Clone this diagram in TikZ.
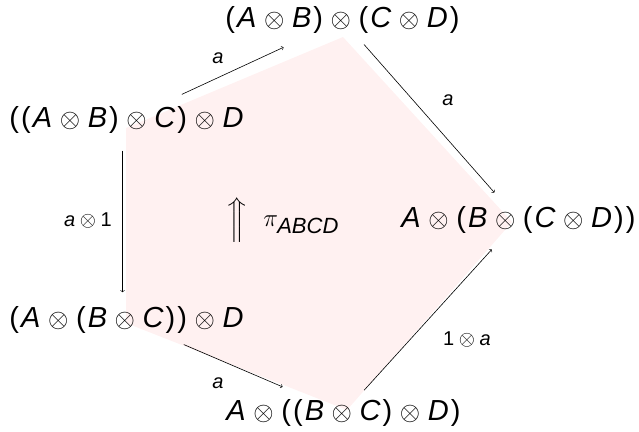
\documentclass[tikz,border=0pt]{standalone}
\usepackage{amsmath}
\usepackage{graphicx}
\usepackage{fontspec}
\setmainfont{Liberation Sans}
\newcommand\ltr[1]{\text{\itshape #1}}
\newcommand\lp{\text{(}\mkern1.5mu}
\newcommand\rp{\mkern1.5mu\text{)}}
\newcommand\ot{\mathbin{\text{\scalebox{1.05}{$\otimes$}}}}
\definecolor{pinkfill}{RGB}{255,241,241}
\begin{document}
\begin{tikzpicture}[x=1pt,y=-1pt,
  obj/.style={inner sep=1pt,font=\fontsize{29}{33}\selectfont,execute at begin node={\medmuskip=5.5mu}},
  lbl/.style={inner sep=0pt,font=\fontsize{20}{24}\selectfont},
  arr/.style={->,line width=0.6pt}]
\useasboundingbox (0,0) rectangle (639,431);
\fill[pinkfill] (126,128) -- (343,37) -- (512,222) -- (347,410) -- (126,323) -- cycle;
\node[obj] (tl) at (126.5,120) {$\lp\lp\ltr{A}\ot\ltr{B}\rp\ot\ltr{C}\rp\ot\ltr{D}$};
\node[obj] (t) at (342.5,20) {$\lp\ltr{A}\ot\ltr{B}\rp\ot\lp\ltr{C}\ot\ltr{D}\rp$};
\node[obj] (r) at (518.5,220) {$\ltr{A}\ot\lp\ltr{B}\ot\lp\ltr{C}\ot\ltr{D}\rp\rp$};
\node[obj] (bl) at (126.5,320) {$\lp\ltr{A}\ot\lp\ltr{B}\ot\ltr{C}\rp\rp\ot\ltr{D}$};
\node[obj] (b) at (343.5,413) {$\ltr{A}\ot\lp\lp\ltr{B}\ot\ltr{C}\rp\ot\ltr{D}\rp$};
\node[inner sep=1pt,font=\fontsize{26}{30}\selectfont] (pi) at (283,220)
  {{\fontsize{30}{34}\selectfont$\Big\Uparrow$}\hspace{17pt}$\pi_{\text{\fontsize{22}{24}\selectfont\itshape ABCD}}$};
\draw[arr,shorten <=26pt,shorten >=30pt] (tl) -- (t);
\draw[arr,shorten <=13pt,shorten >=17pt] (t) -- (r);
\draw[arr,shorten <=16pt,shorten >=13pt] ([xshift=-4pt]tl.south) -- ([xshift=-4pt]bl.north);
\draw[arr,shorten <=25pt,shorten >=29pt] (bl) -- (b);
\draw[arr,shorten <=11pt,shorten >=20pt] (b) -- (r);
\node[lbl] (l1) at (218,58) {$\ltr{a}$};
\node[lbl] (l2) at (448,100) {$\ltr{a}$};
\node[lbl] (l3) at (88,220) {$\ltr{a}\otimes\text{1}$};
\node[lbl] (l4) at (218,383) {$\ltr{a}$};
\node[lbl] (l5) at (467,339) {$\text{1}\otimes\ltr{a}$};
\end{tikzpicture}
\end{document}
